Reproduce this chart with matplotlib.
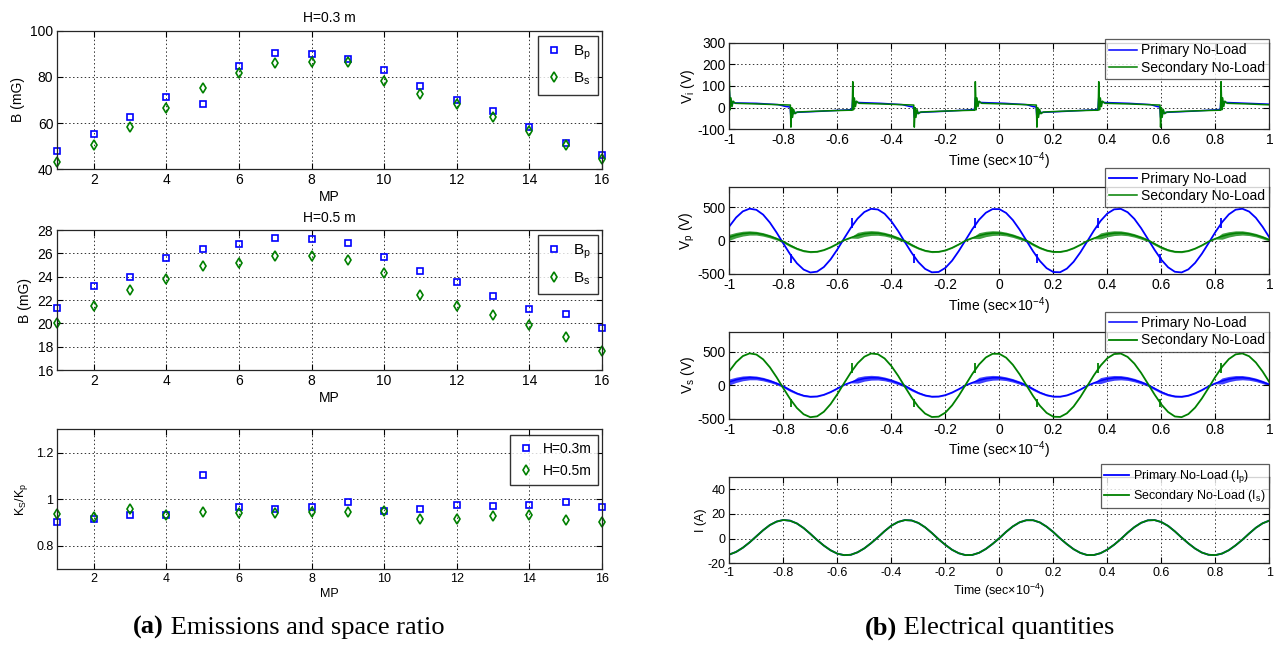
import numpy as np
import matplotlib.pyplot as plt
from matplotlib.ticker import FormatStrFormatter

plt.rcParams['font.family'] = 'Liberation Sans'
plt.rcParams['mathtext.fontset'] = 'custom'
plt.rcParams['mathtext.rm'] = 'Liberation Sans'
plt.rcParams['mathtext.it'] = 'Liberation Sans'
plt.rcParams['axes.unicode_minus'] = False

BLUE = (0, 0, 1)
GREEN = (0, 0.5, 0)

# ---------------- (a) emissions and space ratio ----------------
mp = list(range(1, 17))
bp_03 = [47.7, 55.2, 62.5, 71.3, 68.3, 84.6, 90.1, 89.8, 87.8, 82.9, 76.2, 70.0, 65.0, 58.2, 51.5, 46.0]
bs_03 = [43.0, 50.3, 58.2, 66.4, 75.0, 81.7, 86.0, 86.6, 86.3, 78.2, 72.7, 68.1, 62.7, 56.6, 50.6, 44.3]
bp_05 = [21.35, 23.17, 24.0, 25.6, 26.4, 26.8, 27.35, 27.2, 26.9, 25.67, 24.48, 23.54, 22.35, 21.2, 20.78, 19.63]
bs_05 = [20.0, 21.47, 22.9, 23.83, 24.9, 25.16, 25.8, 25.8, 25.4, 24.36, 22.4, 21.47, 20.76, 19.82, 18.82, 17.63]
ratio_03 = [0.902, 0.914, 0.932, 0.931, 1.104, 0.968, 0.960, 0.968, 0.987, 0.950, 0.960, 0.974, 0.973, 0.977, 0.988, 0.969]
ratio_05 = [0.938, 0.924, 0.957, 0.931, 0.945, 0.941, 0.940, 0.944, 0.945, 0.951, 0.917, 0.914, 0.929, 0.933, 0.910, 0.901]

# ---------------- (b) electrical quantities ----------------
# time in units of 1e-4 s, sampled every 0.025
t = np.linspace(-1, 1, 81)

# large sinusoid (Vp primary / Vs secondary)
v_large = [214, 347, 439, 479, 462, 390, 271, 121, -44,
           -204, -339, -434, -478, -465, -396, -281, -132, 33,
           193, 331, 429, 477, 467, 403, 290, 144, -21,
           -182, -322, -424, -475, -470, -409, -300, -154, 9,
           172, 314, 418, 473, 472, 415, 308, 165, 2,
           -161, -305, -413, -471, -474, -420, -317, -176, -14,
           150, 296, 407, 469, 476, 426, 326, 187, 25,
           -139, -287, -400, -467, -477, -431, -334, -197, -37,
           128, 277, 394, 464, 478, 436, 342, 207, 48]
# small rippled sinusoid (Vp secondary / Vs primary) and its ripple half-width
v_small = [51, 83, 105, 115, 111, 93, 65, 29, -16,
           -72, -120, -154, -169, -165, -140, -99, -47, 8,
           46, 79, 103, 114, 112, 96, 70, 34, -7,
           -65, -114, -150, -168, -166, -145, -106, -55, 2,
           41, 75, 100, 113, 113, 99, 74, 40, 1,
           -57, -108, -146, -167, -168, -149, -112, -62, -5,
           36, 71, 97, 112, 114, 102, 78, 45, 6,
           -49, -102, -142, -165, -169, -153, -118, -70, -13,
           31, 66, 94, 111, 115, 104, 82, 50, 12]
ripple = [45, 40, 36, 32, 28, 26, 24, 20, 20,
          20, 16, 14, 12, 10, 9, 9, 8, 8,
          9, 45, 40, 36, 32, 28, 26, 24, 20,
          20, 16, 14, 12, 10, 9, 9, 8, 8,
          9, 45, 40, 36, 32, 28, 26, 24, 20,
          20, 16, 14, 12, 10, 9, 9, 8, 8,
          8, 45, 40, 36, 32, 28, 26, 24, 20,
          20, 20, 16, 14, 12, 10, 9, 9, 8,
          8, 45, 40, 36, 32, 28, 26, 24, 20]
# hooks on the large sinusoid at the switching instants
hook_down_t = [-0.773, -0.316, 0.138, 0.596]
hook_up_t = [-0.544, -0.09, 0.367, 0.82]

# currents
i_primary = [-12.9, -10.8, -7.4, -3.1, 1.8, 6.7, 10.9, 13.7, 15.0,
             14.4, 12.2, 8.5, 3.8, -1.2, -5.7, -9.5, -12.2, -13.4,
             -13.1, -11.1, -7.9, -3.7, 1.0, 6.0, 10.4, 13.4, 14.9,
             14.6, 12.6, 9.1, 4.5, -0.6, -5.1, -9.1, -11.9, -13.4,
             -13.2, -11.5, -8.4, -4.3, 0.3, 5.4, 9.8, 13.1, 14.8,
             14.8, 13.0, 9.6, 5.2, 0.1, -4.5, -8.6, -11.6, -13.3,
             -13.3, -11.8, -8.9, -5.0, -0.4, 4.7, 9.2, 12.7, 14.7,
             14.9, 13.3, 10.2, 5.8, 0.8, -3.9, -8.1, -11.3, -13.1,
             -13.4, -12.1, -9.4, -5.5, -1.0, 4.0, 8.7, 12.3, 14.5]
i_secondary = list(i_primary)

# inverter voltage breakpoints
vi_pri_t = [-1.000, -0.996, -0.992, -0.985, -0.90, -0.82, -0.79, -0.775,
            -0.772, -0.768, -0.763, -0.755, -0.65, -0.56, -0.546,
            -0.543, -0.539, -0.535, -0.527, -0.44, -0.36, -0.33, -0.318,
            -0.315, -0.311, -0.306, -0.298, -0.19, -0.11, -0.092,
            -0.089, -0.085, -0.081, -0.073, 0.02, 0.10, 0.125, 0.136,
            0.139, 0.143, 0.148, 0.156, 0.26, 0.35, 0.365,
            0.368, 0.372, 0.376, 0.384, 0.48, 0.56, 0.585, 0.594,
            0.597, 0.601, 0.606, 0.614, 0.72, 0.80, 0.818,
            0.821, 0.825, 0.829, 0.837, 0.92, 1.0]
vi_pri_v = [75, 5, 30, 22, 20, 14, 5, 3,
            -45, -15, -28, -22, -16, -10, -8,
            45, 10, 28, 24, 20, 14, 5, 3,
            -45, -15, -28, -22, -16, -10, -8,
            45, 10, 28, 24, 20, 14, 5, 3,
            -45, -15, -28, -22, -16, -10, -8,
            45, 10, 28, 24, 20, 14, 5, 3,
            -45, -15, -28, -22, -16, -10, -8,
            45, 10, 28, 24, 20, 16]
vi_sec_t = [-1.000, -0.997, -0.994, -0.990, -0.986, -0.978, -0.90, -0.80, -0.774,
            -0.772, -0.769, -0.766, -0.762, -0.757, -0.748, -0.65, -0.56, -0.545,
            -0.543, -0.540, -0.537, -0.533, -0.529, -0.520, -0.44, -0.34, -0.317,
            -0.315, -0.312, -0.309, -0.305, -0.300, -0.291, -0.19, -0.10, -0.091,
            -0.089, -0.086, -0.083, -0.079, -0.075, -0.066, 0.02, 0.12, 0.137,
            0.139, 0.142, 0.145, 0.149, 0.154, 0.163, 0.26, 0.35, 0.366,
            0.368, 0.371, 0.374, 0.378, 0.382, 0.391, 0.48, 0.57, 0.595,
            0.597, 0.600, 0.603, 0.607, 0.612, 0.621, 0.72, 0.81, 0.819,
            0.821, 0.824, 0.827, 0.831, 0.835, 0.844, 0.92, 1.0]
vi_sec_v = [120, -10, 45, 5, 30, 20, 17, 13, 12,
            -90, 0, -45, -8, -28, -20, -15, -12, -12,
            120, -10, 45, 5, 30, 20, 17, 13, 12,
            -90, 0, -45, -8, -28, -20, -15, -12, -12,
            120, -10, 45, 5, 30, 20, 17, 13, 12,
            -90, 0, -45, -8, -28, -20, -15, -12, -12,
            120, -10, 45, 5, 30, 20, 17, 13, 12,
            -90, 0, -45, -8, -28, -20, -15, -12, -12,
            120, -10, 45, 5, 30, 20, 17, 13]

fig = plt.figure(figsize=(12.76, 6.46), dpi=100)


def style_axes(ax, size):
    ax.grid(True, linestyle=(0, (1.5, 2.5)), color='0.2', linewidth=0.7)
    ax.tick_params(direction='in', top=True, right=True, length=4, width=0.8,
                   labelsize=size, pad=3)
    for s in ax.spines.values():
        s.set_linewidth(0.9)
        s.set_color('0.15')


def left_scatter(ax, y1, y2, lab1, lab2, size, anchor):
    ax.plot(mp, y1, 's', color=BLUE, mfc='none', ms=5, mew=1.2, label=lab1, clip_on=False)
    ax.plot(mp, y2, 'd', color=GREEN, mfc='none', ms=5.5, mew=1.2, label=lab2, clip_on=False)
    ax.set_xlim(1, 16)
    ax.set_xticks(range(2, 17, 2))
    ax.set_xlabel('MP', fontsize=size, labelpad=2)
    style_axes(ax, size)
    leg = ax.legend(loc='upper right', bbox_to_anchor=anchor, borderaxespad=0,
                    numpoints=1, fancybox=False, fontsize=size + 1, handlelength=1.2,
                    handletextpad=0.6, labelspacing=0.6, borderpad=0.5)
    leg.get_frame().set_edgecolor('black')
    leg.get_frame().set_linewidth(1.0)


ax1 = fig.add_axes([0.045, 0.738, 0.4268, 0.2146])
left_scatter(ax1, bp_03, bs_03, 'B$_\\mathregular{p}$', 'B$_\\mathregular{s}$', 10, (0.993, 0.964))
ax1.set_ylim(40, 100)
ax1.set_yticks([40, 60, 80, 100])
ax1.set_ylabel('B (mG)', fontsize=10)
ax1.set_title('H=0.3 m', fontsize=10, pad=6)

ax2 = fig.add_axes([0.045, 0.4272, 0.4268, 0.2167])
left_scatter(ax2, bp_05, bs_05, 'B$_\\mathregular{p}$', 'B$_\\mathregular{s}$', 10, (0.993, 0.964))
ax2.set_ylim(16, 28)
ax2.set_yticks(range(16, 29, 2))
ax2.set_ylabel('B (mG)', fontsize=10)
ax2.set_title('H=0.5 m', fontsize=10, pad=6)

ax3 = fig.add_axes([0.045, 0.1187, 0.4268, 0.2167])
left_scatter(ax3, ratio_03, ratio_05, 'H=0.3m', 'H=0.5m', 9, (0.993, 0.959))
ax3.set_ylim(0.7, 1.3)
ax3.set_yticks([0.8, 1.0, 1.2])
ax3.yaxis.set_major_formatter(FormatStrFormatter('%g'))
ax3.set_ylabel('K$_\\mathregular{S}$/K$_\\mathregular{p}$', fontsize=9)


def right_axes(bottom, size):
    ax = fig.add_axes([0.5716, bottom, 0.4232, 0.1342])
    ax.set_xlim(-1, 1)
    ax.set_xticks(np.linspace(-1, 1, 11))
    ax.xaxis.set_major_formatter(FormatStrFormatter('%g'))
    ax.set_xlabel('Time (sec×10$^{-4}$)', fontsize=size, labelpad=2)
    style_axes(ax, size)
    return ax


def right_legend(ax, top, size):
    leg = ax.legend(loc='upper right', bbox_to_anchor=(1.0, top), borderaxespad=0,
                    fancybox=False, fontsize=size, handlelength=2.0,
                    handletextpad=0.3, labelspacing=0.25, borderpad=0.3)
    leg.get_frame().set_edgecolor('0.2')
    leg.get_frame().set_linewidth(0.9)
    leg.set_zorder(10)


# Vi
ax4 = right_axes(0.7998, 10)
ax4.plot(vi_pri_t, vi_pri_v, color=BLUE, lw=1.1, label='Primary No-Load')
ax4.plot(vi_sec_t, vi_sec_v, color=GREEN, lw=1.1, label='Secondary No-Load')
ax4.set_ylim(-100, 300)
ax4.set_yticks([-100, 0, 100, 200, 300])
ax4.set_ylabel('V$_\\mathregular{i}$ (V)', fontsize=10, labelpad=0)
right_legend(ax4, 1.039, 10)

# Vp
ax5 = right_axes(0.5759, 10)
ax5.plot(t, v_large, color=BLUE, lw=1.3, label='Primary No-Load')
ax5.vlines(hook_down_t, -330, -200, color=BLUE, lw=1.3)
ax5.vlines(hook_up_t, 185, 340, color=BLUE, lw=1.3)
ax5.fill_between(t, np.array(v_small) - np.array(ripple), np.array(v_small) + np.array(ripple),
                 color=GREEN, lw=0, alpha=0.75)
ax5.plot(t, v_small, color=GREEN, lw=1.1, label='Secondary No-Load')
ax5.set_ylim(-500, 800)
ax5.set_yticks([-500, 0, 500])
ax5.set_ylabel('V$_\\mathregular{p}$ (V)', fontsize=10, labelpad=0)
right_legend(ax5, 1.226, 10)

# Vs
ax6 = right_axes(0.3519, 10)
ax6.fill_between(t, np.array(v_small) - np.array(ripple), np.array(v_small) + np.array(ripple),
                 color=BLUE, lw=0, alpha=0.75)
ax6.plot(t, v_small, color=BLUE, lw=1.1, label='Primary No-Load')
ax6.plot(t, v_large, color=GREEN, lw=1.3, label='Secondary No-Load')
ax6.vlines(hook_down_t, -330, -200, color=GREEN, lw=1.3)
ax6.vlines(hook_up_t, 185, 340, color=GREEN, lw=1.3)
ax6.set_ylim(-500, 800)
ax6.set_yticks([-500, 0, 500])
ax6.set_ylabel('V$_\\mathregular{s}$ (V)', fontsize=10, labelpad=0)
right_legend(ax6, 1.233, 10)

# I
ax7 = right_axes(0.128, 9)
ax7.plot(t, i_primary, color=BLUE, lw=1.3, label='Primary No-Load (I$_\\mathregular{p}$)')
ax7.plot(t, i_secondary, color=GREEN, lw=1.3, label='Secondary No-Load (I$_\\mathregular{s}$)')
ax7.set_ylim(-20, 50)
ax7.set_yticks([-20, 0, 20, 40])
ax7.set_ylabel('I (A)', fontsize=9, labelpad=0)
right_legend(ax7, 1.14, 9)

# captions with bold tag
renderer = fig.canvas.get_renderer()


def caption(xc, tag, rest):
    y = 0.028
    t1 = fig.text(0, y, tag, family='Liberation Serif', weight='bold', fontsize=19, va='center')
    t2 = fig.text(0, y, rest, family='Liberation Serif', fontsize=19, va='center')
    w1 = t1.get_window_extent(renderer).width / fig.bbox.width
    w2 = t2.get_window_extent(renderer).width / fig.bbox.width
    x0 = xc - (w1 + w2) / 2
    t1.set_x(x0)
    t2.set_x(x0 + w1)


caption(0.2265, '(a)', ' Emissions and space ratio')
caption(0.7757, '(b)', ' Electrical quantities')

fig.savefig('out.png', dpi=100)
